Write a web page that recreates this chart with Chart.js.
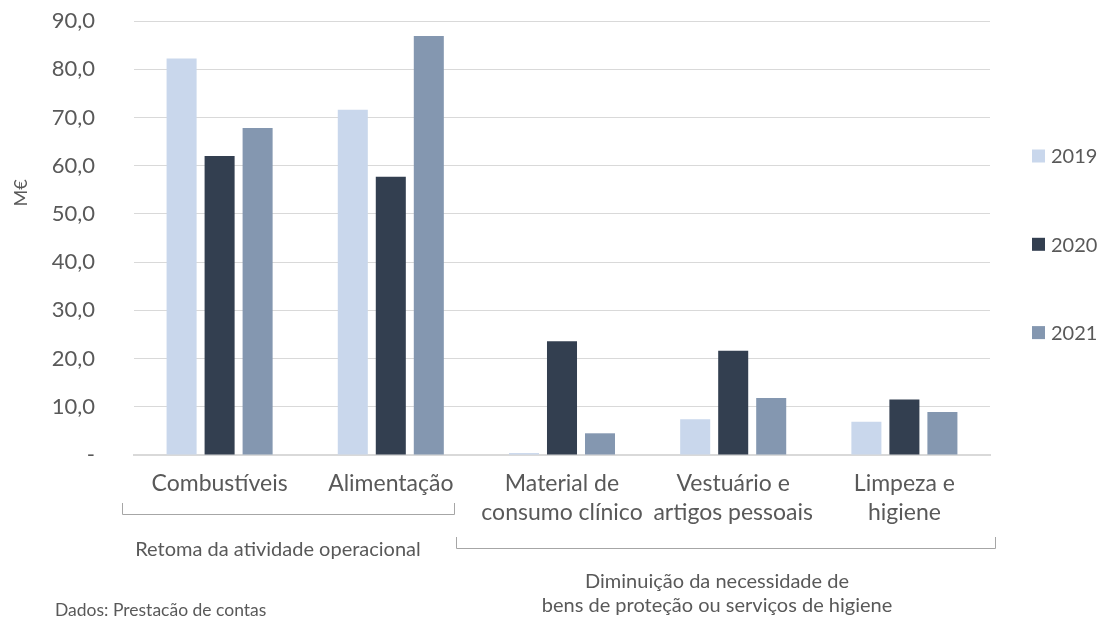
<!DOCTYPE html>
<html lang="pt">
<head>
<meta charset="utf-8">
<title>Despesas por categoria</title>
<script src="https://cdn.jsdelivr.net/npm/chart.js@4.4.1/dist/chart.umd.min.js"></script>
<style>
  html, body { margin: 0; padding: 0; background: #ffffff; }
  #wrap { position: relative; width: 1101px; height: 618px; }
</style>
</head>
<body>
<div id="wrap"><canvas id="chart" width="1101" height="618"></canvas></div>
<script>
// Categorias (rótulos em duas linhas)
const categories = [
  ['Combustíveis'],
  ['Alimentação'],
  ['Material de', 'consumo clínico'],
  ['Vestuário e', 'artigos pessoais'],
  ['Limpeza e', 'higiene']
];

// Valores em milhões de euros
const years = ['2019', '2020', '2021'];
const values2019 = [82.2, 71.6, 0.4, 7.4, 6.9];
const values2020 = [62.0, 57.7, 23.6, 21.6, 11.5];
const values2021 = [67.8, 86.9, 4.5, 11.8, 8.9];

// Eixo vertical
const yTicks = [0, 10, 20, 30, 40, 50, 60, 70, 80, 90];
const yTitle = 'M€';

// Agrupamentos por baixo do eixo
const groupLabels = [
  ['Retoma da atividade operacional'],
  ['Diminuição da necessidade de', 'bens de proteção ou serviços de higiene']
];
const sourceNote = 'Dados: Prestacão de contas';

const colors = ['#C9D7EC', '#333F50', '#8497B0'];
const textColor = '#595959';
const FONT = 'Lato, "Open Sans", sans-serif';

// Legenda vertical à direita, desenhada a partir dos datasets
const sideLegend = {
  id: 'sideLegend',
  afterDraw(chart) {
    const ctx = chart.ctx;
    ctx.save();
    ctx.font = '20px ' + FONT;
    ctx.textBaseline = 'middle';
    ctx.textAlign = 'left';
    chart.data.datasets.forEach((ds, i) => {
      const cy = 156 + i * 88.3;
      ctx.fillStyle = ds.backgroundColor;
      ctx.fillRect(1032, cy - 6.5, 13, 13);
      ctx.fillStyle = textColor;
      ctx.fillText(ds.label, 1051, cy + 1);
    });
    ctx.restore();
  }
};

// Título do eixo, chavetas dos grupos e nota de fonte
const annotations = {
  id: 'annotations',
  afterDraw(chart) {
    const ctx = chart.ctx;
    ctx.save();
    ctx.fillStyle = textColor;

    // Título do eixo vertical
    ctx.save();
    ctx.translate(21, 193);
    ctx.rotate(-Math.PI / 2);
    ctx.font = '18px ' + FONT;
    ctx.textAlign = 'center';
    ctx.textBaseline = 'middle';
    ctx.fillText(yTitle, 0, 0);
    ctx.restore();

    // Chavetas
    ctx.strokeStyle = '#A6A6A6';
    ctx.lineWidth = 1;
    const bracket = (x1, x2, yTop, yBot) => {
      ctx.beginPath();
      ctx.moveTo(x1 + 0.5, yTop);
      ctx.lineTo(x1 + 0.5, yBot + 0.5);
      ctx.lineTo(x2 + 0.5, yBot + 0.5);
      ctx.lineTo(x2 + 0.5, yTop);
      ctx.stroke();
    };
    bracket(122, 454, 503, 514);
    bracket(456, 995, 537, 548);

    // Textos dos grupos
    ctx.font = '20px ' + FONT;
    ctx.textAlign = 'center';
    ctx.textBaseline = 'middle';
    ctx.fillText(groupLabels[0][0], 278, 550);
    ctx.fillText(groupLabels[1][0], 717, 582);
    ctx.fillText(groupLabels[1][1], 717, 606);

    // Fonte dos dados
    ctx.font = '17.5px ' + FONT;
    ctx.textAlign = 'left';
    ctx.fillText(sourceNote, 55, 610);
    ctx.restore();
  }
};

const datasets = [values2019, values2020, values2021].map((vals, i) => ({
  label: years[i],
  data: vals,
  backgroundColor: colors[i],
  borderWidth: 0,
  categoryPercentage: 0.666,
  barPercentage: 0.79
}));

new Chart(document.getElementById('chart'), {
  type: 'bar',
  data: { labels: categories, datasets },
  options: {
    responsive: false,
    animation: false,
    layout: { padding: { left: 0, right: 111, top: 21, bottom: 83 } },
    plugins: {
      legend: { display: false },
      tooltip: { enabled: false }
    },
    scales: {
      x: {
        grid: { display: false, drawTicks: false },
        border: { display: true, color: '#D9D9D9', width: 2 },
        ticks: {
          color: textColor,
          font: { family: FONT, size: 23, lineHeight: 1.22 },
          padding: 15,
          maxRotation: 0,
          autoSkip: false
        },
        afterFit(scale) {
          scale.height = 80;
          scale.paddingLeft = 0;
          scale.paddingRight = 0;
        }
      },
      y: {
        min: 0,
        max: 90,
        afterBuildTicks(scale) { scale.ticks = yTicks.map(v => ({ value: v })); },
        grid: { color: '#D9D9D9', lineWidth: 1, drawTicks: false },
        border: { display: false },
        ticks: {
          color: textColor,
          font: { family: FONT, size: 22 },
          padding: 39,
          callback: v => v === 0 ? '-' : v.toFixed(1).replace('.', ',')
        },
        afterFit(scale) {
          scale.width = 134;
          scale.paddingTop = 0;
          scale.paddingBottom = 0;
        }
      }
    }
  },
  plugins: [sideLegend, annotations]
});
</script>
</body>
</html>
